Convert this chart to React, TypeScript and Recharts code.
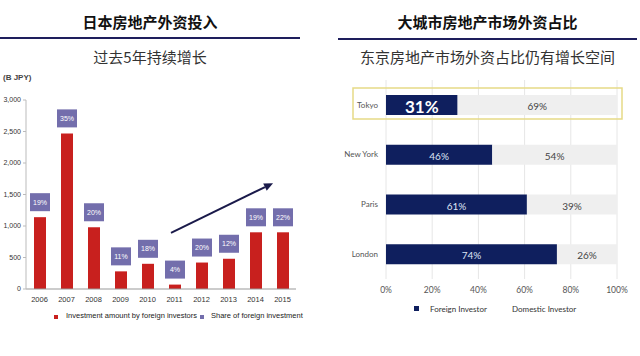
import React from 'react';
import { BarChart, Bar, XAxis, YAxis, CartesianGrid, LabelList, ReferenceLine } from 'recharts';

const years = ['2006', '2007', '2008', '2009', '2010', '2011', '2012', '2013', '2014', '2015'];
const amounts = [1140, 2470, 980, 280, 400, 70, 420, 480, 900, 900];
const shares = [19, 35, 20, 11, 18, 4, 20, 12, 19, 22];
const yTicks = [0, 500, 1000, 1500, 2000, 2500, 3000];

const cities = ['Tokyo', 'New York', 'Paris', 'London'];
const foreign = [31, 46, 61, 74];
const domestic = [69, 54, 39, 26];
const pctTicks = [0, 20, 40, 60, 80, 100];

// trend arrow in (category position, value) coordinates; category i centre = i
const trendArrow = [
  { x: 4.87, y: 890 },
  { x: 8.65, y: 1680 },
];

const leftData = years.map((y, i) => ({ year: y, amount: amounts[i], share: shares[i], idx: i }));
const rightData = cities.map((c, i) => ({ city: c, foreign: foreign[i], domestic: domestic[i] }));

const NARROW = '"Liberation Sans Narrow", "Liberation Sans", Arial, sans-serif';
const CJK = '"Noto Sans CJK SC", "Noto Sans", sans-serif';
const LATO = 'Lato, "Open Sans", sans-serif';

const RED = '#c8201e';
const PURPLE = '#736eac';
const NAVY = '#0f1f5e';
const LIGHT = '#efefef';

const ShareLabel = (props: any) => {
  const { x, y, width, value } = props;
  const cx = x + width / 2;
  return (
    <g>
      <rect x={cx - 10} y={y - 24} width={20} height={18} fill={PURPLE} />
      <text x={cx} y={y - 15} textAnchor="middle" dominantBaseline="central" fill="#fff" fontSize={7} fontFamily={NARROW}>
        {value}%
      </text>
    </g>
  );
};

const ArrowShape = (props: any) => {
  const { x1, y1, x2, y2 } = props;
  if ([x1, y1, x2, y2].some((v) => typeof v !== 'number' || isNaN(v))) return null;
  const ang = Math.atan2(y2 - y1, x2 - x1);
  const len = 9;
  const hw = 4;
  const bx = x2 - len * Math.cos(ang);
  const by = y2 - len * Math.sin(ang);
  const px = -Math.sin(ang) * hw;
  const py = Math.cos(ang) * hw;
  return (
    <g>
      <line x1={x1} y1={y1} x2={bx} y2={by} stroke="#1a1a4a" strokeWidth={2} />
      <polygon points={`${x2},${y2} ${bx + px},${by + py} ${bx - px},${by - py}`} fill="#1a1a4a" />
    </g>
  );
};

const ForeignShape = (props: any) => {
  const { x, y, width, height, payload } = props;
  return (
    <g>
      {payload && payload.city === 'Tokyo' && (
        <rect x={x - 33} y={y - 7} width={269} height={height + 11} fill="none" stroke="#e6da86" strokeWidth={1.5} />
      )}
      <rect x={x} y={y} width={width} height={height} fill={NAVY} />
    </g>
  );
};

const ForeignLabel = (props: any) => {
  const { x, y, width, height, value, index } = props;
  const tokyo = index === 0;
  return (
    <text
      x={x + width / 2}
      y={y + height / 2 + 1}
      textAnchor="middle"
      dominantBaseline="central"
      fill={tokyo ? '#ffffff' : '#dfe6f5'}
      fontSize={tokyo ? 17 : 10}
      fontWeight={tokyo ? 700 : 400}
      fontFamily={LATO}
    >
      {value}%
    </text>
  );
};

const DomesticLabel = (props: any) => {
  const { x, y, width, height, value } = props;
  return (
    <text x={x + width / 2} y={y + height / 2 + 1} textAnchor="middle" dominantBaseline="central" fill="#444" fontSize={10} fontFamily={LATO}>
      {value}%
    </text>
  );
};

const abs = (s: React.CSSProperties): React.CSSProperties => ({ position: 'absolute', ...s });

export default function App() {
  return (
    <div style={{ position: 'absolute', left: 0, top: 0, width: 640, height: 356, background: '#fff', overflow: 'hidden' }}>
      {/* Left headings */}
      <div style={abs({ left: 0, top: 12, width: 300, textAlign: 'center', fontFamily: CJK, fontWeight: 700, fontSize: 15, lineHeight: '20px', color: '#111' })}>
        日本房地产外资投入
      </div>
      <div style={abs({ left: 0, top: 37, width: 300, height: 2, background: '#1e1e5c' })} />
      <div style={abs({ left: 0, top: 47, width: 300, textAlign: 'center', fontFamily: CJK, fontWeight: 400, fontSize: 15, lineHeight: '20px', color: '#333' })}>
        过去5年持续增长
      </div>
      <div style={abs({ left: 3, top: 73, fontFamily: NARROW, fontWeight: 700, fontSize: 8, lineHeight: '10px', color: '#444' })}>(B JPY)</div>

      {/* Right headings */}
      <div style={abs({ left: 338, top: 12, width: 299, textAlign: 'center', fontFamily: CJK, fontWeight: 700, fontSize: 15, lineHeight: '20px', color: '#111' })}>
        大城市房地产市场外资占比
      </div>
      <div style={abs({ left: 338, top: 38, width: 299, height: 2, background: '#1e1e5c' })} />
      <div style={abs({ left: 338, top: 47, width: 299, textAlign: 'center', fontFamily: CJK, fontWeight: 400, fontSize: 15, lineHeight: '20px', color: '#333' })}>
        东京房地产市场外资占比仍有增长空间
      </div>

      {/* Left chart */}
      <div style={abs({ left: 0, top: 0 })}>
        <BarChart width={310} height={320} data={leftData} margin={{ top: 100, right: 14, bottom: 11, left: 0 }} barSize={12}>
          <XAxis
            dataKey="year"
            height={20}
            stroke="#999"
            tickLine={false}
            tick={{ fontSize: 7.5, fill: '#333', fontFamily: NARROW }}
            interval={0}
          />
          <XAxis xAxisId="n" dataKey="idx" type="number" domain={[-0.5, 9.5]} hide allowDataOverflow />
          <YAxis
            width={26}
            domain={[0, 3000]}
            ticks={yTicks}
            stroke="#bbb"
            tickSize={3}
            tick={{ fontSize: 7, fill: '#333', fontFamily: NARROW }}
            tickFormatter={(v: number) => v.toLocaleString('en-US')}
            allowDataOverflow
          />
          <Bar dataKey="amount" fill={RED} isAnimationActive={false}>
            <LabelList dataKey="share" content={ShareLabel} />
          </Bar>
          <ReferenceLine xAxisId="n" segment={trendArrow} ifOverflow="visible" shape={ArrowShape} />
        </BarChart>
      </div>

      {/* Left legend */}
      <div style={abs({ left: 54, top: 315, width: 4, height: 4, background: RED })} />
      <div style={abs({ left: 66, top: 311, fontFamily: NARROW, fontSize: 7.5, lineHeight: '10px', color: '#222', whiteSpace: 'nowrap' })}>
        Investment amount by foreign investors
      </div>
      <div style={abs({ left: 200, top: 315, width: 4, height: 4, background: PURPLE })} />
      <div style={abs({ left: 211, top: 311, fontFamily: NARROW, fontSize: 7.5, lineHeight: '10px', color: '#222', whiteSpace: 'nowrap' })}>
        Share of foreign investment
      </div>

      {/* Right chart */}
      <div style={abs({ left: 320, top: 0 })}>
        <BarChart
          width={320}
          height={320}
          data={rightData}
          layout="vertical"
          margin={{ top: 80, right: 23, bottom: 16, left: 0 }}
          barSize={20}
        >
          <CartesianGrid horizontal={false} stroke="#e6e6e6" />
          <XAxis
            type="number"
            domain={[0, 100]}
            ticks={pctTicks}
            tickFormatter={(v: number) => `${v}%`}
            axisLine={false}
            tickLine={false}
            height={25}
            tick={{ fontSize: 8.5, fill: '#555', fontFamily: LATO }}
          />
          <YAxis
            type="category"
            dataKey="city"
            width={66}
            axisLine={false}
            tickLine={false}
            tick={{ fontSize: 8, fill: '#555', fontFamily: LATO }}
          />
          <Bar dataKey="foreign" stackId="a" fill={NAVY} shape={ForeignShape} isAnimationActive={false}>
            <LabelList dataKey="foreign" content={ForeignLabel} />
          </Bar>
          <Bar dataKey="domestic" stackId="a" fill={LIGHT} isAnimationActive={false}>
            <LabelList dataKey="domestic" content={DomesticLabel} />
          </Bar>
        </BarChart>
      </div>

      {/* Right legend */}
      <div style={abs({ left: 414, top: 306, width: 5, height: 5, background: NAVY })} />
      <div style={abs({ left: 430, top: 304, fontFamily: LATO, fontSize: 8, lineHeight: '10px', color: '#333', whiteSpace: 'nowrap' })}>
        Foreign Investor
      </div>
      <div style={abs({ left: 512, top: 304, fontFamily: LATO, fontSize: 8, lineHeight: '10px', color: '#333', whiteSpace: 'nowrap' })}>
        Domestic Investor
      </div>
    </div>
  );
}
